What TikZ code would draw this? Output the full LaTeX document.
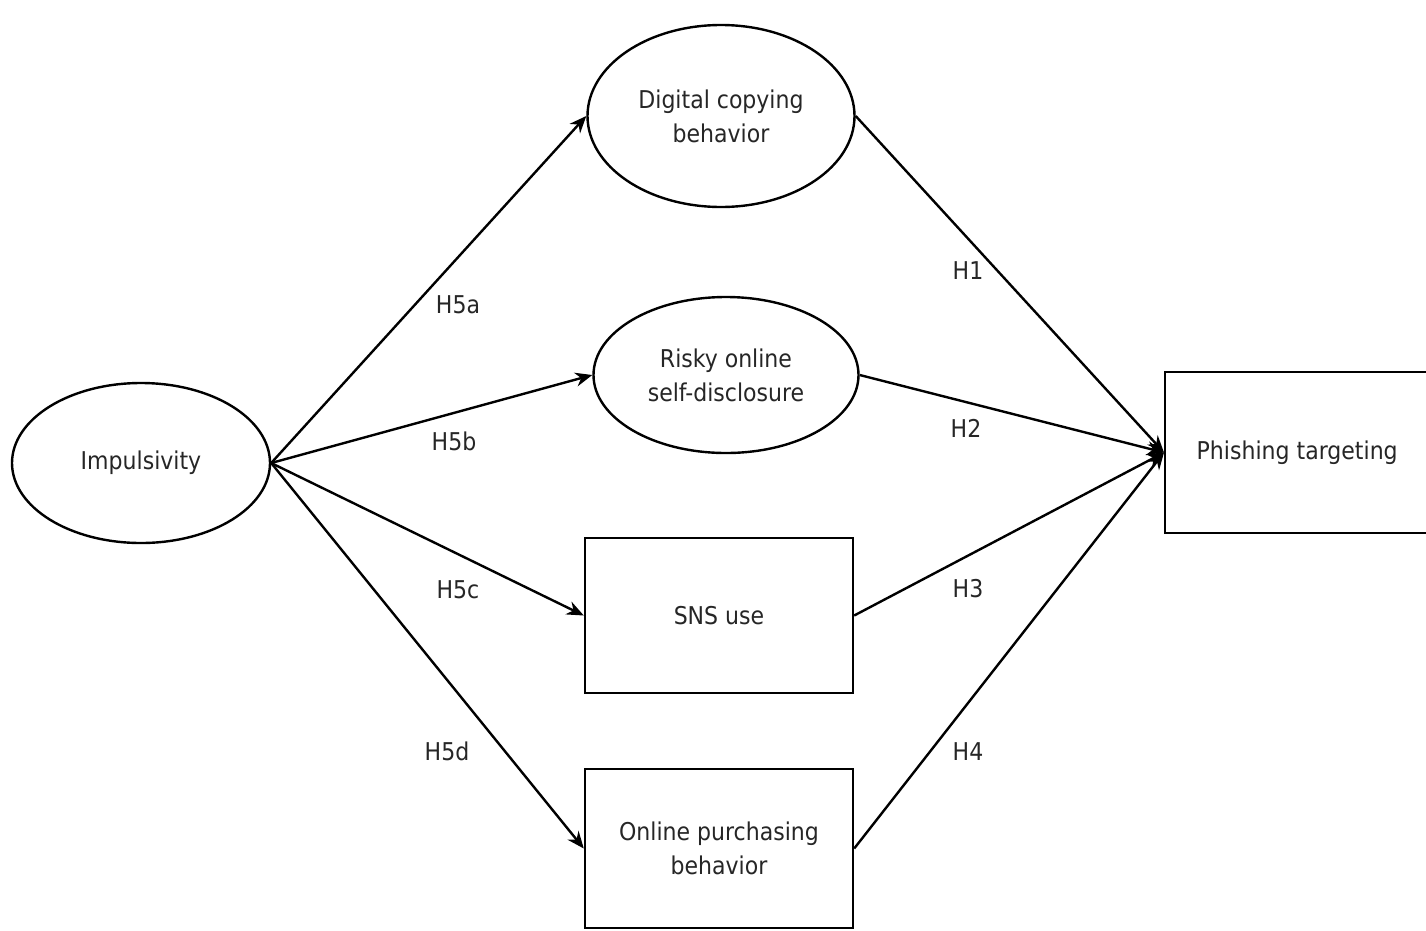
\documentclass[tikz,border=0pt]{standalone}
\usepackage{fontspec}
\setmainfont{DejaVu Sans Condensed}
\usetikzlibrary{shapes.geometric,arrows.meta}
\begin{document}
\begin{tikzpicture}[x=1pt,y=-1pt,
  every node/.style={font=\fontsize{24.5}{34}\selectfont, text=black!85},
  ell/.style={draw=black, line width=2.4pt, ellipse, inner sep=0pt, align=center},
  box/.style={draw=black, line width=2.4pt, rectangle, inner sep=0pt, align=center},
  link/.style={draw=black, line width=2.4pt, -{Stealth[length=17pt,width=14pt]}},
  hlab/.style={inner sep=1pt}
]
\useasboundingbox (0,0) rectangle (1426,930);
\node[ell, minimum width=258pt, minimum height=160pt] (imp) at (141,463) {Impulsivity};
\node[ell, minimum width=267pt, minimum height=182pt] (dig) at (721,116) {Digital copying\\behavior};
\node[ell, minimum width=265pt, minimum height=156pt] (risk) at (726,375) {Risky online\\self-disclosure};
\node[box, minimum width=268pt, minimum height=155pt] (sns) at (719,615.5) {SNS use};
\node[box, minimum width=268pt, minimum height=159pt] (buy) at (719,848.5) {Online purchasing\\behavior};
\node[box, minimum width=264pt, minimum height=161pt, anchor=west] (phish) at (1164,452.5) {Phishing targeting};

\draw[link] (imp.east) -- (dig.west);
\draw[link] (imp.east) -- (risk.west);
\draw[link] (imp.east) -- (sns.west);
\draw[link] (imp.east) -- (buy.west);
\draw[link] (dig.east) -- (phish.west);
\draw[link] (risk.east) -- (phish.west);
\draw[link] (sns.east) -- (phish.west);
\draw[link] (buy.east) -- (phish.west);

\node[hlab] (h5a) at (458,305) {H5a};
\node[hlab] (h5b) at (454,441) {H5b};
\node[hlab] (h5c) at (458,590) {H5c};
\node[hlab] (h5d) at (447,751) {H5d};
\node[hlab] (h1) at (968,271) {H1};
\node[hlab] (h2) at (966,428) {H2};
\node[hlab] (h3) at (968,589) {H3};
\node[hlab] (h4) at (968,752) {H4};
\end{tikzpicture}
\end{document}
